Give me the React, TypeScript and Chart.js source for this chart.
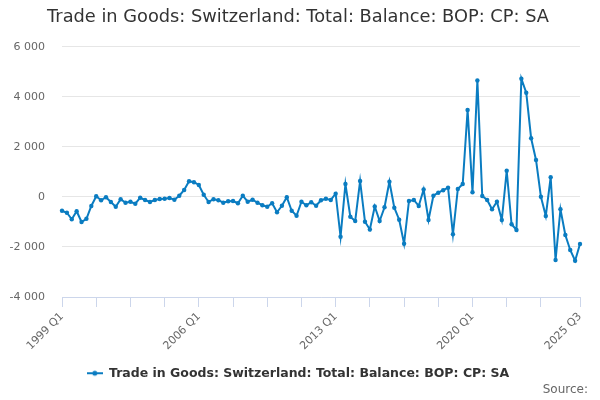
import { useEffect, useRef } from "react";
import { Chart, registerables } from "chart.js";

Chart.register(...registerables);

const TITLE = "Trade in Goods: Switzerland: Total: Balance: BOP: CP: SA";
const SERIES_NAME = "Trade in Goods: Switzerland: Total: Balance: BOP: CP: SA";

const START_YEAR = 1999;
const QUARTER_COUNT = 107; // 1999 Q1 .. 2025 Q3
const QUARTERS: string[] = [];
for (let i = 0; i < QUARTER_COUNT; i++) {
    QUARTERS.push(`${START_YEAR + Math.floor(i / 4)} Q${(i % 4) + 1}`);
}

const TICK_LABELS = ["1999 Q1", "2006 Q1", "2013 Q1", "2020 Q1", "2025 Q3"];

// £ million
const BALANCE = [
    -550, -630, -890, -570, -1000, -870, -360, 30, -130, -10, -200, -390,
    -90, -230, -190, -270, -30, -120, -200, -120, -80, -70, -40, -110,
    50, 280, 630, 590, 480, 90, -200, -90, -130, -230, -170, -160,
    -250, 50, -190, -110, -230, -330, -390, -250, -610, -350, -10, -550,
    -750, -190, -330, -210, -350, -130, -70, -120, 130, -1590, 520, -790,
    -960, 640, -990, -1300, -380, -960, -410, 610, -430, -910, -1870, -160,
    -120, -360, 300, -920, 50, 170, 270, 370, -1490, 320, 520, 3480,
    190, 4660, 40, -120, -490, -190, -920, 1050, -1090, -1320, 4730, 4170,
    2350, 1480, 10, -760, 790, -2520, -490, -1520, -2120, -2550, -1880,
];

const LINE_COLOR = "#0a7cc1";

function formatThousands(v: number) {
    return String(v).replace(/\B(?=(\d{3})+(?!\d))/g, " ");
}

function makeLegendIcon() {
    const c = document.createElement("canvas");
    c.width = 16;
    c.height = 8;
    const g = c.getContext("2d")!;
    g.strokeStyle = LINE_COLOR;
    g.lineWidth = 2;
    g.beginPath();
    g.moveTo(0, 4);
    g.lineTo(16, 4);
    g.stroke();
    g.fillStyle = LINE_COLOR;
    g.beginPath();
    g.arc(8, 4, 2.5, 0, Math.PI * 2);
    g.fill();
    return c;
}

const sourcePlugin = {
    id: "sourceText",
    afterDraw(chart: Chart) {
        const ctx = chart.ctx;
        ctx.save();
        ctx.font = "12px 'DejaVu Sans', sans-serif";
        ctx.fillStyle = "#666666";
        ctx.textAlign = "right";
        ctx.textBaseline = "middle";
        ctx.fillText("Source:", 588, 390);
        ctx.restore();
    },
};

export default function App() {
    const canvasRef = useRef<HTMLCanvasElement>(null);
    const chartRef = useRef<Chart | null>(null);

    useEffect(() => {
        document.body.style.margin = "0";
        if (!canvasRef.current) return;
        if (chartRef.current) chartRef.current.destroy();

        Chart.defaults.font.family = "'DejaVu Sans', sans-serif";

        chartRef.current = new Chart(canvasRef.current, {
            type: "line",
            data: {
                labels: QUARTERS,
                datasets: [
                    {
                        label: SERIES_NAME,
                        data: BALANCE,
                        borderColor: LINE_COLOR,
                        backgroundColor: LINE_COLOR,
                        borderWidth: 2,
                        pointRadius: 2.2,
                        pointBorderWidth: 0,
                        tension: 0,
                    },
                ],
            },
            options: {
                responsive: true,
                maintainAspectRatio: false,
                animation: false,
                layout: { padding: { left: 8, right: 12, top: 0, bottom: 10.5 } },
                plugins: {
                    title: {
                        display: true,
                        text: TITLE,
                        color: "#333333",
                        font: { size: 17.8, weight: "normal" },
                        padding: { top: 7, bottom: 18.6 },
                    },
                    legend: {
                        display: true,
                        position: "bottom",
                        labels: {
                            color: "#333333",
                            font: { size: 12.5, weight: "bold" },
                            usePointStyle: true,
                            pointStyle: makeLegendIcon(),
                            pointStyleWidth: 16,
                            padding: 15,
                        },
                    },
                    tooltip: { enabled: false },
                },
                scales: {
                    x: {
                        afterFit: (scale: any) => {
                            scale.height = 55;
                        },
                        grid: {
                            drawOnChartArea: false,
                            drawTicks: true,
                            tickLength: 10,
                            color: (ctx: any) =>
                                (ctx.index % 7 === 0 && ctx.index < 105) || ctx.index === QUARTER_COUNT - 1
                                    ? "#ccd6eb"
                                    : "rgba(0,0,0,0)",
                        },
                        border: { color: "#ccd6eb", width: 1 },
                        ticks: {
                            autoSkip: false,
                            maxRotation: 45,
                            minRotation: 45,
                            padding: 3,
                            color: "#666666",
                            font: { size: 11 },
                            callback: function (this: any, val: any) {
                                const lbl = this.getLabelForValue(val);
                                return TICK_LABELS.includes(lbl) ? lbl : "";
                            },
                        },
                    },
                    y: {
                        min: -4000,
                        max: 6000,
                        afterFit: (scale: any) => {
                            scale.width = 54;
                        },
                        grid: { color: "#e6e6e6", drawTicks: false },
                        border: { display: false },
                        ticks: {
                            stepSize: 2000,
                            padding: 17,
                            color: "#666666",
                            font: { size: 11 },
                            callback: (v: any) => formatThousands(Number(v)),
                        },
                    },
                    // empty right-hand spacer so the plot ends at x = 580
                    spacer: {
                        type: "linear",
                        position: "right",
                        display: true,
                        afterFit: (scale: any) => {
                            scale.width = 8;
                        },
                        grid: { display: false },
                        border: { display: false },
                        ticks: { display: false },
                    },
                },
            },
            plugins: [sourcePlugin],
        });

        return () => {
            chartRef.current?.destroy();
            chartRef.current = null;
        };
    }, []);

    return (
        <div style={{ position: "relative", width: "600px", height: "400px" }}>
            <canvas ref={canvasRef} role="img" aria-label="Line chart of Switzerland trade in goods balance" />
        </div>
    );
}
